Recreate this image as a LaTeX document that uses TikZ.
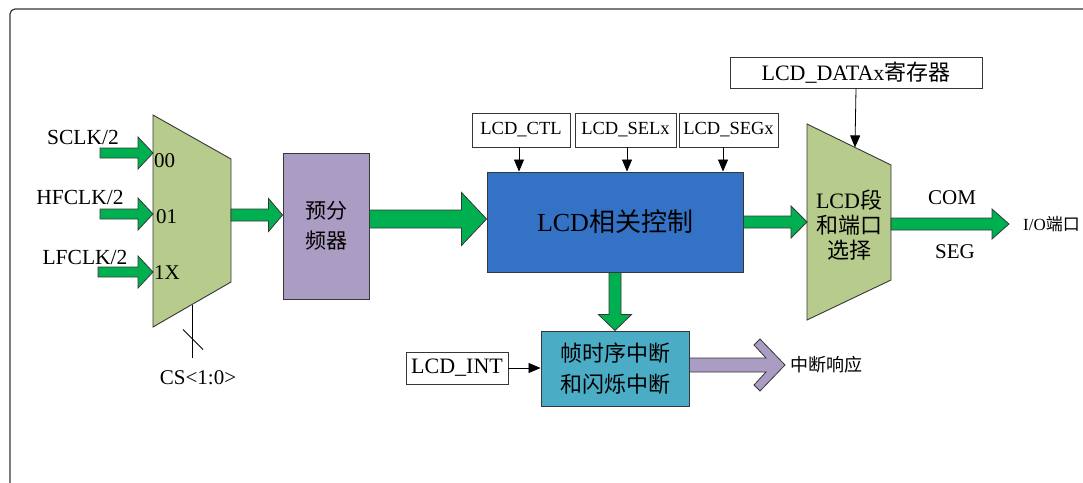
\documentclass[tikz,border=0pt]{standalone}
\usepackage{fontspec}
\setmainfont{Liberation Serif}
\newfontfamily\cjk{Noto Sans CJK SC}
\usepackage{tikz}
\usetikzlibrary{
  arrows.meta,
  calc,
  positioning
}
\tikzset{>={Triangle[length=12pt,width=10pt]}}
\definecolor{arrowgreen}{RGB}{0,176,80}
\definecolor{muxgreen}{RGB}{183,203,140}
\definecolor{prepurple}{RGB}{170,156,194}
\definecolor{ctlblue}{RGB}{52,114,198}
\definecolor{intteal}{RGB}{75,172,198}
\definecolor{edgegray}{RGB}{55,55,55}
\tikzset{
  txt/.style={inner sep=0pt,font=\fontsize{#1}{#1}\selectfont},
  fatarrow/.style={fill=arrowgreen,draw=edgegray,line width=0.8pt,line join=miter},
  blockbox/.style={draw=edgegray,line width=0.9pt,inner sep=0pt},
  regbox/.style={draw=edgegray,line width=0.8pt,fill=white,inner sep=0pt},
  sig/.style={->,line width=0.8pt}
}
\newcommand{\fatarrow}[6][]{%
  \path (#2) coordinate (fa-s) (#3) coordinate (fa-e);
  \path ($(fa-e)!#6!(fa-s)$) coordinate (fa-h);
  \draw[fatarrow,#1] ($(fa-s)!#4!90:(fa-e)$) -- ($(fa-h)!#4!-90:(fa-s)$)
    -- ($(fa-h)!#5!-90:(fa-s)$) -- (fa-e) -- ($(fa-h)!#5!90:(fa-s)$)
    -- ($(fa-h)!#4!90:(fa-s)$) -- ($(fa-s)!#4!-90:(fa-e)$) -- cycle;}

\begin{document}
\begin{tikzpicture}[x=1pt,y=-1pt]
	\useasboundingbox (0,0) rectangle (1083,482);
	\draw[edgegray,line width=1.2pt,rounded corners=5pt] (10,484) -- (10,9) -- (1085,9);
	% clock select
	\coordinate (m1a) at (153,115);
	\coordinate (m1b) at (231,159);
	\coordinate (m1c) at (231,282);
	\coordinate (m1d) at (153,327);
	\draw[blockbox,fill=muxgreen] (m1a)--(m1b)--(m1c)--(m1d)--cycle;
	\node[txt=21.5] (sclk) at (83,137) {SCLK/2};
	\node[txt=21.5] (hfclk) at (80,197) {HFCLK/2};
	\node[txt=21.5] (lfclk) at (85,257) {LFCLK/2};
	\coordinate (sclkin) at (100,153);
	\coordinate (hfclkin) at (100,214);
	\coordinate (lfclkin) at (98,272);
	\fatarrow{sclkin}{sclkin -| m1a}{5pt}{16pt}{15pt}
	\fatarrow{hfclkin}{hfclkin -| m1a}{5pt}{16pt}{15pt}
	\fatarrow{lfclkin}{lfclkin -| m1a}{5pt}{16pt}{15pt}
	\node[txt=21,anchor=west] (p00) at (154,161) {00};
	\node[txt=21,anchor=west] (p01) at (156,217) {01};
	\node[txt=21,anchor=west] (p1x) at (154,273) {1X};
	\coordinate (m1sel) at ($(m1d)!0.5!(m1c)$);
	\node[txt=21] (cs) at (198,378) {CS<1:0>};
	\coordinate (csend) at (192,358);
	\draw[line width=0.8pt] (m1sel) -- (csend);
	\draw[line width=0.8pt] ($(m1sel)+(-9,25)$) -- ($(m1sel)+(11,45)$);
	% prescaler
	\node[blockbox,fill=prepurple,minimum width=86pt,minimum height=146pt,align=center,
		font=\fontsize{21}{30}\selectfont\cjk] (pre) at (326,226) {预分\\频器};
	\coordinate (m1out) at (231,215);
	\fatarrow{m1out}{m1out -| pre.west}{6pt}{16.5pt}{14pt}
	% control
	\node[blockbox,fill=ctlblue,minimum width=256pt,minimum height=100pt,
		font=\fontsize{26}{26}\selectfont] (ctl) at (615,222) {LCD{\cjk 相关控制}};
	\coordinate (preout) at ($(pre.east)+(0,-7)$);
	\fatarrow{preout}{preout -| ctl.west}{9pt}{26.5pt}{25pt}
	\node[regbox,txt=18.5,minimum width=98pt,minimum height=34pt] (rctl) at (521,130) {LCD\_CTL};
	\node[regbox,txt=18.5,minimum width=101pt,minimum height=34pt] (rsel) at (625.5,130) {LCD\_SELx};
	\node[regbox,txt=18.5,minimum width=99pt,minimum height=34pt] (rseg) at (728.5,130) {LCD\_SEGx};
	\draw[sig] ($(rctl.south)+(-2,0)$) -- ($(rctl.south |- ctl.north)+(-2,0)$);
	\draw[sig] ($(rsel.south)+(1.5,0)$) -- ($(rsel.south |- ctl.north)+(1.5,0)$);
	\draw[sig] ($(rseg.south)+(-5.5,0)$) -- ($(rseg.south |- ctl.north)+(-5.5,0)$);
	% segment / port select
	\coordinate (m2a) at (807,124);
	\coordinate (m2b) at (891,165);
	\coordinate (m2c) at (891,280);
	\coordinate (m2d) at (807,320);
	\draw[blockbox,fill=muxgreen] (m2a)--(m2b)--(m2c)--(m2d)--cycle;
	\node[inner sep=0pt,align=center,font=\fontsize{22}{25}\selectfont] (m2txt) at (849,225)
		{LCD{\cjk 段}\\{\cjk 和端口}\\{\cjk 选择}};
	\node[regbox,txt=22,minimum width=252pt,minimum height=31pt] (rdata) at (856,72.5) {LCD\_DATAx{\cjk 寄存器}};
	\coordinate (m2top) at ($(m2a)!0.571!(m2b)$);
	\draw[sig] (rdata.south) -- (m2top);
	\fatarrow{ctl.east}{ctl.east -| m2a}{6pt}{16pt}{16pt}
	\coordinate (io) at (1009,224);
	\fatarrow{m2b |- io}{io}{6pt}{15pt}{17pt}
	\node[txt=21] (com) at (952,198) {COM};
	\node[txt=21] (seg) at (955,252) {SEG};
	\node[txt=17,right=14pt of io] (ioport) {I/O{\cjk 端口}};
	% interrupt
	\node[blockbox,fill=intteal,minimum width=148pt,minimum height=75pt,align=center,
		font=\fontsize{22}{31}\selectfont\cjk] (intr) at (615,368.5) {帧时序中断\\和闪烁中断};
	\fatarrow{ctl.south}{intr.north}{6pt}{16.5pt}{16pt}
	\node[regbox,txt=22,minimum width=102pt,minimum height=32pt] (rint) at (457,368) {LCD\_INT};
	\draw[sig] (rint.east) -- (rint.east -| intr.west);
	\coordinate (resp) at (785,365);
	\draw[fatarrow,fill=prepurple] ($(intr.east |- resp)+(0,-7)$) -- ($(resp)+(-19,-7)$)
		-- ($(resp)+(-31,-20)$) -- ($(resp)+(-25,-26)$) -- (resp) -- ($(resp)+(-25,26)$)
		-- ($(resp)+(-31,20)$) -- ($(resp)+(-19,7)$) -- ($(intr.east |- resp)+(0,7)$) -- cycle;
	\node[txt=18,right=5pt of resp,font=\fontsize{18}{18}\selectfont\cjk] (resptxt) {中断响应};
\end{tikzpicture}
\end{document}
